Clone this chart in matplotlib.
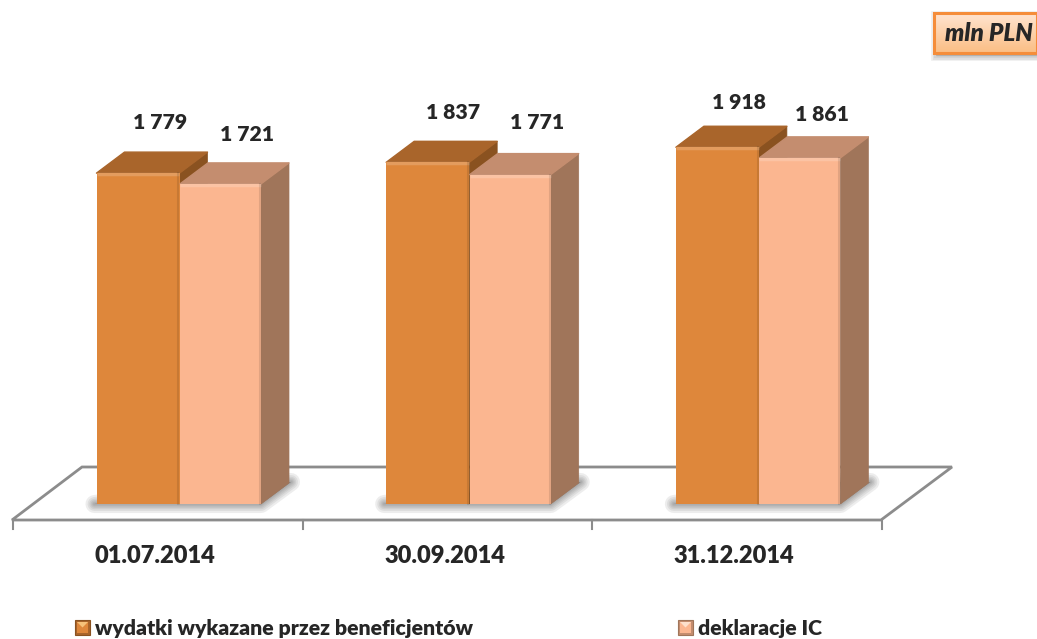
import matplotlib
matplotlib.use("Agg")
import matplotlib.pyplot as plt
import numpy as np
from matplotlib.patches import Polygon, Rectangle

plt.rcParams['font.family'] = ['Lato', 'DejaVu Sans']

categories = ['01.07.2014', '30.09.2014', '31.12.2014']
wydatki = [1779, 1837, 1918]
deklaracje = [1721, 1771, 1861]
wydatki_labels = ['1 779', '1 837', '1 918']
deklaracje_labels = ['1 721', '1 771', '1 861']
legend_names = ['wydatki wykazane przez beneficjentów', 'deklaracje IC']
unit_label = 'mln PLN'

# label shift from the bar top, pixels (placed by hand in the original)
wydatki_lift = [51, 50, 45]
deklaracje_lift = [49, 52, 43]
wydatki_shift = [22, 25, 22]
deklaracje_shift = [26, 27, 22]

W, H = 1037, 639
X0 = 13            # pixel of first category edge
CAT_W = 289.7      # pixels per category
BASE = 504         # pixel of value 0
PX_PER_UNIT = 0.186
BAR_W = 83 / CAT_W
BAR_W2 = 81 / CAT_W
DEPTH_X = 28 / CAT_W
DEPTH_Y = 21 / PX_PER_UNIT

DARK = ['#DE873B', '#A9652B', '#8A5220']
LIGHT = ['#FBB690', '#C48D6F', '#A0755A']
GREY = '#8C8C8C'
INK = '#262626'
WEIGHT = 'heavy'


def px(xp, yp):
    return (xp - X0) / CAT_W, (BASE - yp) / PX_PER_UNIT


fig = plt.figure(figsize=(W / 100, H / 100), dpi=100)
ax = fig.add_axes([0, 0, 1, 1])
ax.axis('off')

# floor
floor = [px(12, 520), px(881, 520), px(952, 467), px(82, 467)]
ax.add_patch(Polygon(floor, closed=True, fc='white', ec=GREY, lw=2, zorder=1))
for i in range(len(categories) + 1):
    ax.plot([i, i], [px(0, 520)[1], px(0, 529)[1]], color=GREY, lw=1.5, zorder=1)


def draw_bar(x, val, width, cols, z):
    ax.bar(x, val, width, align='edge', color=cols[0], zorder=z + 2)
    # top and side faces
    ax.add_patch(Polygon([(x, val), (x + width, val), (x + width + DEPTH_X, val + DEPTH_Y),
                          (x + DEPTH_X, val + DEPTH_Y)], closed=True, fc=cols[1], ec=cols[1],
                         lw=1, joinstyle='round', zorder=z + 1))
    ax.add_patch(Polygon([(x + width, 0), (x + width + DEPTH_X, DEPTH_Y),
                          (x + width + DEPTH_X, val + DEPTH_Y), (x + width, val)], closed=True,
                         fc=cols[2], ec=cols[2], lw=0.5, zorder=z))
    # thin bevel highlight on the front
    ax.plot([x, x + width], [val - 6, val - 6], color='white', alpha=0.18, lw=2.5,
            solid_capstyle='butt', zorder=z + 3)
    ax.plot([x + width - 1 / CAT_W] * 2, [0, val], color='black', alpha=0.10, lw=1.5, zorder=z + 3)


for i in range(len(categories)):
    x1 = i + 83.5 / CAT_W
    x2 = x1 + BAR_W + 0.5 / CAT_W

    # blurred shadow on the floor
    sx0, sx1 = x1 - 2 / CAT_W, x2 + BAR_W2
    shadow = [(sx0, 0), (sx1, 0), (sx1 + 30 / CAT_W, 22 / PX_PER_UNIT), (sx1, 22 / PX_PER_UNIT)]
    for lw in [13, 10, 7.5, 5.5, 3.5, 2]:
        ax.add_patch(Polygon(shadow, closed=True, fc='#606060', ec='#606060', alpha=0.11, lw=lw,
                             joinstyle='round', zorder=2))

    draw_bar(x1, wydatki[i], BAR_W, DARK, 3)
    draw_bar(x2, deklaracje[i], BAR_W2, LIGHT, 8)

    ax.annotate(wydatki_labels[i], (x1 + BAR_W / 2, wydatki[i]), xytext=(wydatki_shift[i] * 0.72, wydatki_lift[i] * 0.72),
                textcoords='offset points', ha='center', va='center', fontsize=15.2, fontweight=WEIGHT,
                color=INK, zorder=20)
    ax.annotate(deklaracje_labels[i], (x2 + BAR_W2 / 2, deklaracje[i]), xytext=(deklaracje_shift[i] * 0.72, deklaracje_lift[i] * 0.72),
                textcoords='offset points', ha='center', va='center', fontsize=15.2, fontweight=WEIGHT,
                color=INK, zorder=20)

    tx, ty = px(0, 556)
    ax.text(i + 0.49, ty, categories[i], ha='center', va='center', fontsize=17, fontweight=WEIGHT,
            color=INK, zorder=20)

# unit box with gradient
bx0, by0 = px(934, 53)
bx1, by1 = px(1037, 13)
for lw in [7, 5, 3]:
    sx, sy = px(936, 56)
    sx2, sy2 = px(1040, 16)
    ax.add_patch(Rectangle((sx, sy), sx2 - sx, sy2 - sy, fc='#606060', ec='#606060', alpha=0.10, lw=lw, zorder=21))
grad = np.linspace(0, 1, 60)[:, None]
c_top = np.array([0xFF, 0xE4, 0xD0]) / 255
c_bot = np.array([0xFB, 0xBE, 0x84]) / 255
ax.imshow(c_top[None, None, :] * (1 - grad[..., None]) + c_bot[None, None, :] * grad[..., None],
          extent=(bx0, bx1, by0, by1), aspect='auto', origin='upper', zorder=22)
ax.add_patch(Rectangle((bx0, by0), bx1 - bx0, by1 - by0, fc='none', ec='#F58D3A', lw=2.2, zorder=23))
ux, uy = px(989, 34)
ax.text(ux, uy, unit_label, ha='center', va='center', fontsize=17.5, fontweight=WEIGHT, style='italic',
        color=INK, zorder=24)


# legend
def legend_key(xp, yp, cols, tip):
    s = 15
    corners = [px(xp, yp), px(xp + s, yp), px(xp + s, yp + s), px(xp, yp + s)]
    inner = [px(xp + 2, yp + 2), px(xp + s - 2, yp + 2), px(xp + s - 2, yp + s - 2), px(xp + 2, yp + s - 2)]
    mid = px(xp + s / 2, yp + s / 2)
    ax.add_patch(Polygon(corners, closed=True, fc=cols[1], ec=cols[2], lw=0.8, zorder=20))
    ax.add_patch(Polygon(inner, closed=True, fc=cols[0], ec='none', zorder=21))
    ax.add_patch(Polygon([inner[0], inner[1], mid], closed=True, fc=tip, ec='none', zorder=22))


legend_key(75, 620, DARK, '#F6C27A')
legend_key(678, 620, LIGHT, '#FDE0CC')
lx, ly = px(95, 628)
ax.text(lx, ly, legend_names[0], ha='left', va='center', fontsize=15.3, fontweight=WEIGHT, color=INK)
lx, ly = px(698, 628)
ax.text(lx, ly, legend_names[1], ha='left', va='center', fontsize=15.3, fontweight=WEIGHT, color=INK)

ax.set_xlim(px(0, 0)[0], px(W, 0)[0])
ax.set_ylim(px(0, H)[1], px(0, 0)[1])

fig.savefig('out.png', dpi=100)
